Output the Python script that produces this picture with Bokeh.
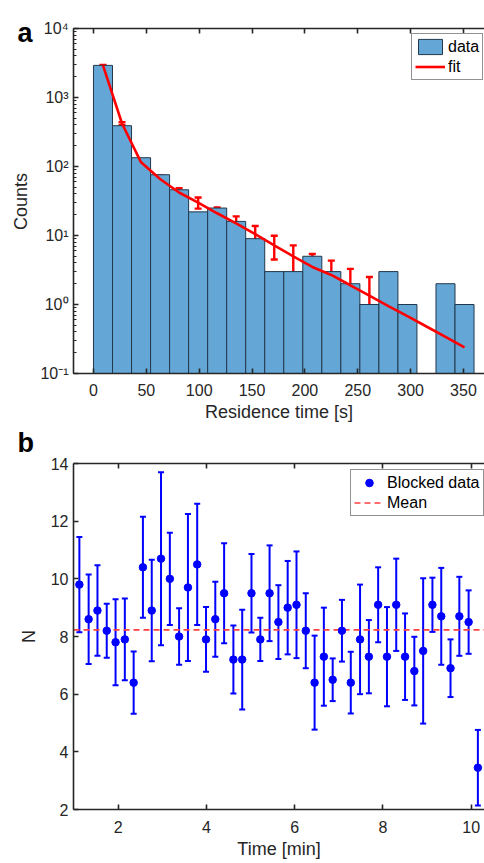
import numpy as np
from bokeh.plotting import figure
from bokeh.layouts import column
from bokeh.models import (ColumnDataSource, Whisker, TeeHead, Legend, LegendItem,
                          LinearAxis, LogTicker, FixedTicker, CustomJSTickFormatter, Label, Range1d)
from bokeh.embed import file_html
from bokeh.resources import INLINE

# ---------------- panel a: residence time histogram ----------------
bin_edges = [0, 18, 36, 54, 72, 90, 108, 126, 144, 162, 180, 198, 216, 234, 252, 270, 288, 306, 324, 342, 360]
counts = [2920, 390, 134, 76, 46, 22, 25, 16, 9, 3, 3, 5, 3, 2, 1, 3, 1, 0, 2, 1]
fit_x = [9, 27, 45, 63, 81, 99, 117, 135, 153, 171, 189, 207, 225, 243, 261, 279, 297, 315, 333, 351]
fit_y = [2920, 420, 115, 66, 42, 30, 21, 15, 10.5, 7.2, 5.0, 3.5, 2.68, 1.9, 1.34, 0.95, 0.68, 0.48, 0.34, 0.24]
fit_err = [54, 20, 11, 8.1, 6.5, 5.5, 4.6, 3.9, 3.2, 2.7, 2.2, 1.9, 1.64, 1.38, 1.16]
a_xticks = [0, 50, 100, 150, 200, 250, 300, 350]

# ---------------- panel b: blocked data ----------------
t_min = [1.12, 1.33, 1.53, 1.74, 1.94, 2.15, 2.35, 2.56, 2.76, 2.97, 3.17, 3.38, 3.58, 3.79, 3.99,
         4.20, 4.40, 4.61, 4.81, 5.02, 5.22, 5.43, 5.63, 5.84, 6.04, 6.25, 6.45, 6.66, 6.86, 7.07,
         7.27, 7.48, 7.68, 7.89, 8.09, 8.30, 8.50, 8.71, 8.91, 9.12, 9.32, 9.53, 9.73, 9.94, 10.15]
N_val = [9.8, 8.6, 8.9, 8.2, 7.8, 7.9, 6.4, 10.4, 8.9, 10.7, 10.0, 8.0, 9.7, 10.5, 7.9,
         8.6, 9.5, 7.2, 7.2, 9.5, 7.9, 9.5, 8.5, 9.0, 9.1, 8.2, 6.4, 7.3, 6.5, 8.2,
         6.4, 7.9, 7.3, 9.1, 7.3, 9.1, 7.3, 6.8, 7.5, 9.1, 8.7, 6.9, 8.7, 8.5, 3.45]
N_err = [1.65, 1.55, 1.57, 0.94, 1.49, 1.42, 1.08, 1.75, 1.76, 3.0, 1.6, 0.98, 2.55, 2.1, 1.12,
         1.3, 1.73, 1.18, 1.73, 1.36, 0.75, 1.66, 1.28, 1.62, 1.85, 1.3, 1.63, 1.7, 0.74, 1.07,
         1.07, 1.9, 1.27, 1.3, 1.72, 1.6, 1.5, 1.19, 2.52, 0.94, 1.68, 1.0, 1.37, 1.1, 1.31]
b_xticks = [2, 4, 6, 8, 10]
b_yticks = [2, 4, 6, 8, 10, 12, 14]

FONT = "Liberation Sans"
AX = "#262626"
W = 484


def style_axis(ax, tick_size="16px"):
    ax.axis_line_color = AX
    ax.axis_line_width = 1.6
    ax.major_tick_line_color = AX
    ax.major_tick_line_width = 1.6
    ax.major_tick_in = 5
    ax.major_tick_out = 0
    ax.minor_tick_line_color = AX
    ax.minor_tick_in = 3
    ax.minor_tick_out = 0
    ax.major_label_text_font = FONT
    ax.major_label_text_font_size = tick_size
    ax.major_label_text_color = AX
    ax.axis_label_text_font = FONT
    ax.axis_label_text_font_size = "18px"
    ax.axis_label_text_font_style = "normal"
    ax.axis_label_text_color = AX


def panel_label(text, y):
    return Label(x=17, y=y, x_units="canvas", y_units="canvas", text=text,
                 text_font=FONT, text_font_size="27px", text_font_style="bold",
                 text_color="black", text_align="left", text_baseline="alphabetic")


# ---------------- figure a ----------------
pa = figure(width=W, height=424, x_range=Range1d(-18.9, 369.9), y_range=Range1d(0.1, 10000),
            y_axis_type="log", output_backend="svg", toolbar_location=None,
            min_border_left=73, min_border_right=0, min_border_top=28, min_border_bottom=50)
pa.outline_line_color = None
pa.grid.visible = False

left = np.array(bin_edges[:-1])
right = np.array(bin_edges[1:])
cnt = np.array(counts, dtype=float)
mask = cnt > 0
bar_src = ColumnDataSource(dict(left=left[mask], right=right[mask], top=cnt[mask]))
bars = pa.quad(left="left", right="right", top="top", bottom=pa.y_range.start, source=bar_src,
               fill_color="#64a7d6", line_color="#22384c", line_width=1)

fit_line = pa.line(fit_x, fit_y, line_color="#ff0000", line_width=2.6)
ne = len(fit_err)
fy = np.array(fit_y[:ne])
fe = np.array(fit_err)
err_src = ColumnDataSource(dict(base=fit_x[:ne], upper=fy + fe, lower=fy - fe))
pa.add_layout(Whisker(base="base", upper="upper", lower="lower", source=err_src,
                      line_color="#ff0000", line_width=2.4,
                      upper_head=TeeHead(size=7, line_color="#ff0000", line_width=2.4),
                      lower_head=TeeHead(size=7, line_color="#ff0000", line_width=2.4)))

sup_fmt = CustomJSTickFormatter(code="""
const sup = {"-":"\u207B","0":"\u2070","1":"\u00B9","2":"\u00B2","3":"\u00B3","4":"\u2074",
             "5":"\u2075","6":"\u2076","7":"\u2077","8":"\u2078","9":"\u2079"};
const e = Math.round(Math.log10(tick));
return "10" + String(e).split("").map(c => sup[c]).join("");
""")
pa.yaxis.ticker = LogTicker(num_minor_ticks=10, mantissas=[1])
pa.yaxis.formatter = sup_fmt
pa.xaxis.ticker = FixedTicker(ticks=a_xticks)
pa.xaxis.axis_label = "Residence time [s]"
for ax in pa.xaxis + pa.yaxis:
    style_axis(ax)
pa.xaxis.major_label_standoff = 10
pa.xaxis.axis_label_standoff = 3
pa.yaxis.major_label_standoff = 5
pa.xaxis.minor_tick_line_color = None

top_a = LinearAxis(ticker=FixedTicker(ticks=a_xticks), formatter=CustomJSTickFormatter(code='return ""'))
style_axis(top_a)
top_a.minor_tick_line_color = None
top_a.major_label_text_font_size = "0px"
pa.add_layout(top_a, "above")

leg_a = Legend(items=[LegendItem(label="data", renderers=[bars]),
                      LegendItem(label="fit", renderers=[fit_line])],
               location=(338, 293))
pa.add_layout(leg_a)
# y-axis title of panel a and the panel letter share the left margin
pa.add_layout(Label(x=20, y=201, x_units="canvas", y_units="canvas", text="Counts",
                    angle=np.pi / 2, text_font=FONT, text_font_size="18px", text_color=AX,
                    text_align="center", text_baseline="middle"), "left")
pa.add_layout(panel_label("a", 32), "left")

# ---------------- figure b ----------------
pb = figure(width=W, height=439, x_range=Range1d(0.987, 10.30), y_range=Range1d(2, 14),
            output_backend="svg", toolbar_location=None,
            min_border_left=73, min_border_right=0, min_border_top=39, min_border_bottom=54)
pb.outline_line_color = None
pb.grid.visible = False

Nv = np.array(N_val)
Ne = np.array(N_err)
b_src = ColumnDataSource(dict(t=t_min, n=Nv, upper=Nv + Ne, lower=Nv - Ne))

mean_N = float(np.mean(Nv))
mean_line = pb.line(x=[pb.x_range.start, pb.x_range.end], y=[mean_N, mean_N],
                    line_color="#ff4040", line_width=1.6, line_dash="6 4")

pb.add_layout(Whisker(base="t", upper="upper", lower="lower", source=b_src,
                      line_color="#0000ff", line_width=2,
                      upper_head=TeeHead(size=6, line_color="#0000ff", line_width=2),
                      lower_head=TeeHead(size=6, line_color="#0000ff", line_width=2)))
pts = pb.scatter("t", "n", source=b_src, marker="circle", size=7.5,
                 fill_color="#0000ff", line_color="#0000ff")

pb.xaxis.ticker = FixedTicker(ticks=b_xticks)
pb.yaxis.ticker = FixedTicker(ticks=b_yticks)
pb.xaxis.axis_label = "Time [min]"
pb.yaxis.axis_label = "N"
for ax in pb.xaxis + pb.yaxis:
    style_axis(ax)
    ax.minor_tick_line_color = None
pb.xaxis.major_label_standoff = 11
pb.xaxis.axis_label_standoff = 3
pb.yaxis.major_label_standoff = 5
pb.yaxis.axis_label_standoff = 9

top_b = LinearAxis(ticker=FixedTicker(ticks=b_xticks), formatter=CustomJSTickFormatter(code='return ""'))
style_axis(top_b)
top_b.minor_tick_line_color = None
top_b.major_label_text_font_size = "0px"
pb.add_layout(top_b, "above")

leg_b = Legend(items=[LegendItem(label="Blocked data", renderers=[pts]),
                      LegendItem(label="Mean", renderers=[mean_line])],
               location=(277, 293))
pb.add_layout(leg_b)
pb.add_layout(panel_label("b", 18), "above")

for lg in (leg_a, leg_b):
    lg.label_text_font = FONT
    lg.label_text_font_size = "16px"
    lg.label_text_color = "black"
    lg.border_line_color = AX
    lg.border_line_width = 1.6
    lg.padding = 3
    lg.spacing = 1
    lg.margin = 0
    lg.glyph_width = 30
    lg.glyph_height = 19
    lg.label_height = 18
    lg.label_standoff = 3
    lg.background_fill_alpha = 1.0

layout = column(pa, pb, spacing=0)
open("out.html", "w").write(file_html(layout, INLINE))
